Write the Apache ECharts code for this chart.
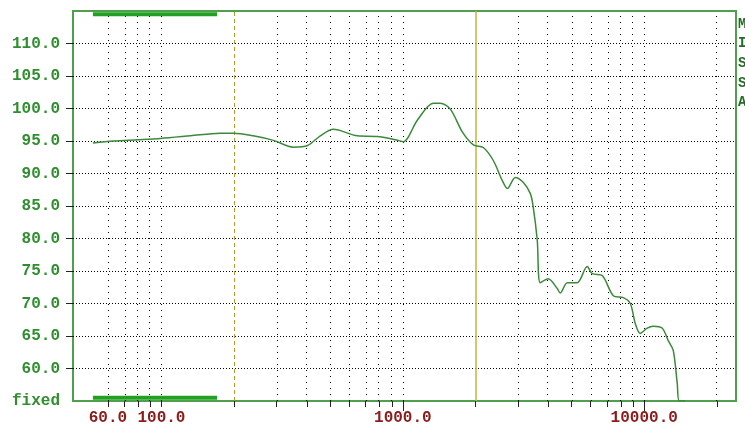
<!DOCTYPE html>
<html>
<head>
<meta charset="utf-8">
<script src="https://cdn.jsdelivr.net/npm/echarts@6/dist/echarts.min.js"></script>
<style>
    body { margin: 0; background: #fff; }
    #chart { width: 745px; height: 427px; }
</style>
</head>
<body>
<div id="chart"></div>
<script>
/**************
 * 数据 *
 *************/
// 频率 (Hz) 和 电平 (dB)
var freqs = [52, 63, 80, 99, 132, 175, 199, 240, 291, 352, 403, 455, 515, 648, 784, 931, 1005, 1148, 1337, 1429, 1573,
    1763, 1959, 2154, 2370, 2583, 2710, 2924, 3157, 3375, 3470, 3605, 3708, 4000, 4363, 4488, 4800, 5277,
    5803, 6093, 6700, 7447, 8190, 8757, 9184, 9623, 10290, 10890, 11880, 12570, 13190, 13700, 13970, 14790];
var levels = [94.7, 95.0, 95.2, 95.4, 95.8, 96.2, 96.2, 95.8, 95.1, 94.05, 94.3, 95.8, 96.8, 95.8, 95.7, 95.2, 94.9, 98.2, 100.8, 100.8, 99.9,
    96.4, 94.4, 94.0, 92.0, 88.9, 87.7, 89.4, 88.6, 86.9, 84.8, 79.7, 73.2, 73.8, 72.3, 71.6, 73.2, 73.2,
    75.7, 74.6, 74.3, 71.2, 70.9, 70.0, 66.9, 65.4, 66.2, 66.5, 66.2, 64.3, 62.8, 57.7, 55.0, 55.0];

// 刻度
var xTickFreqs = [60, 70, 80, 90, 100, 200, 300, 400, 500, 600, 700, 800, 900, 1000,
    2000, 3000, 4000, 5000, 6000, 7000, 8000, 9000, 10000, 20000];
var xMajorFreqs = [1000, 10000];
var xLabelFreqs = [60, 100, 1000, 10000];
var xGridFreqs = [60, 70, 80, 90, 100, 300, 400, 500, 600, 700, 800, 900, 1000,
    3000, 4000, 5000, 6000, 7000, 8000, 9000, 10000, 20000];
var yTicks = [60, 65, 70, 75, 80, 85, 90, 95, 100, 105, 110];
var yLabels = [55, 60, 65, 70, 75, 80, 85, 90, 95, 100, 105, 110];
var cursorFreqs = [200, 2000];
// 顶部/底部的绿色范围条
var bandFreqs = [52, 170];
var bandLevels = [114.5, 55.5];
var sideLetters = ['M', 'I', 'S', 'S', 'A'];

var xMin = Math.log10(43);
var xMax = Math.log10(24000);

function lg(f) {
    return Math.log10(f);
}

var curveData = freqs.map(function(f, i) {
    return [lg(f), levels[i]];
});

// 网格线 (markLine)
var gridLines = [];
xGridFreqs.forEach(function(f) {
    gridLines.push({ xAxis: lg(f), lineStyle: { color: '#000', width: 1, type: [1, 5] } });
});
yTicks.forEach(function(v) {
    gridLines.push({ yAxis: v, lineStyle: { color: '#000', width: 1, type: [1, 2] } });
});
gridLines.push({ xAxis: lg(cursorFreqs[0]), lineStyle: { color: '#b89a2a', width: 1, type: [4, 3] } });
gridLines.push({ xAxis: lg(cursorFreqs[1]), lineStyle: { color: '#c4b443', width: 1.5, type: 'solid' } });

var bandSeries = bandLevels.map(function(v) {
    return {
        type: 'line',
        silent: true,
        clip: false,
        symbol: 'none',
        z: 6,
        lineStyle: { color: '#22a022', width: 4 },
        data: [[lg(bandFreqs[0]), v], [lg(bandFreqs[1]), v]]
    };
});

var labelFont = {
    fontFamily: 'Liberation Mono',
    fontWeight: 'bold',
    fontSize: 16
};

var myChart = echarts.init(document.getElementById('chart'));
var option = {
    animation: false,
    backgroundColor: '#fff',
    grid: {
        left: 73,
        right: 9,
        top: 11,
        bottom: 26,
        show: true,
        borderColor: '#4f9f4f',
        borderWidth: 2,
        backgroundColor: 'transparent'
    },
    xAxis: [{
        type: 'value',
        min: xMin,
        max: xMax,
        axisLine: { show: false },
        splitLine: { show: false },
        axisTick: {
            show: true,
            length: 6,
            lineStyle: { color: '#222', width: 1 },
            customValues: xTickFreqs.map(lg)
        },
        axisLabel: {
            show: true,
            margin: 9,
            color: '#8a1c1c',
            fontFamily: labelFont.fontFamily,
            fontWeight: labelFont.fontWeight,
            fontSize: labelFont.fontSize,
            customValues: xLabelFreqs.map(lg),
            formatter: function(v) {
                return Math.pow(10, v).toFixed(1);
            }
        }
    }, {
        // 主刻度 (更长)
        type: 'value',
        min: xMin,
        max: xMax,
        position: 'bottom',
        axisLine: { show: false },
        splitLine: { show: false },
        axisLabel: { show: false },
        axisTick: {
            show: true,
            length: 10,
            lineStyle: { color: '#222', width: 1 },
            customValues: xMajorFreqs.map(lg)
        }
    }],
    yAxis: {
        type: 'value',
        min: 55,
        max: 115,
        interval: 5,
        axisLine: { show: false },
        splitLine: { show: false },
        axisTick: {
            show: true,
            length: 7,
            lineStyle: { color: '#222', width: 1 },
            customValues: yTicks
        },
        axisLabel: {
            margin: 13,
            color: '#2f8f2f',
            fontFamily: labelFont.fontFamily,
            fontWeight: labelFont.fontWeight,
            fontSize: labelFont.fontSize,
            customValues: yLabels,
            formatter: function(v) {
                return v === 55 ? 'fixed' : v.toFixed(1);
            }
        }
    },
    graphic: sideLetters.map(function(s, i) {
        return {
            type: 'text',
            left: 738,
            top: 17 + i * 19.7,
            style: {
                text: s,
                fill: '#246b24',
                font: 'bold 14px "Liberation Mono"'
            }
        };
    }),
    series: [{
        name: 'grid',
        type: 'line',
        silent: true,
        symbol: 'none',
        data: [],
        z: 1,
        markLine: {
            silent: true,
            symbol: 'none',
            label: { show: false },
            animation: false,
            data: gridLines
        }
    }, {
        name: 'level',
        type: 'line',
        symbol: 'none',
        smooth: 0.3,
        z: 5,
        lineStyle: { color: '#3a8a3a', width: 1.5 },
        data: curveData
    }].concat(bandSeries)
};

if (option && typeof option === "object") {
    myChart.setOption(option, true);
}
</script>
</body>
</html>
